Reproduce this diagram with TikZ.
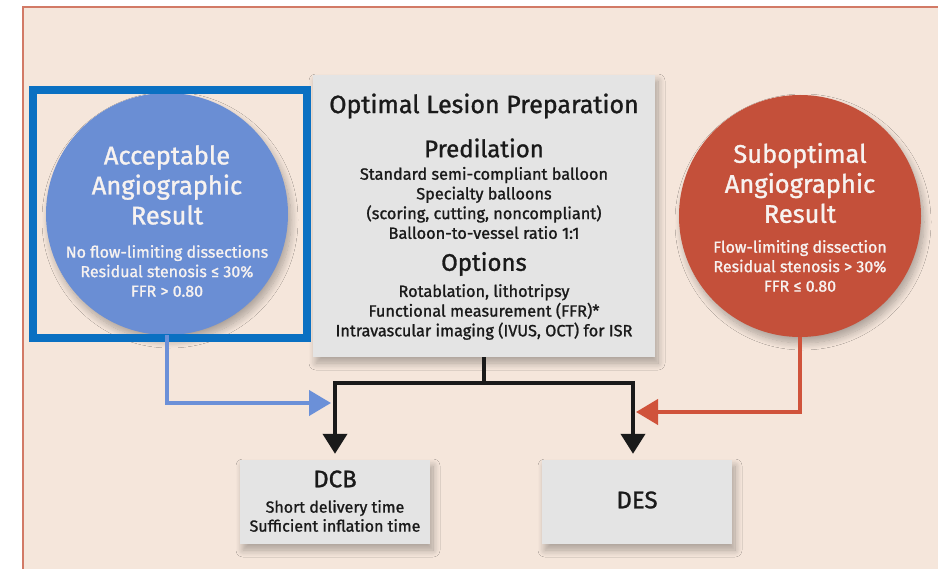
\documentclass[tikz,border=0pt]{standalone}
\usepackage{fontspec}
\setmainfont{Fira Sans}[RawFeature={embolden=1.2}]
\usetikzlibrary{arrows.meta,shadows.blur}
\definecolor{bgbeige}{HTML}{F5E6DB}
\definecolor{framered}{HTML}{D27A66}
\definecolor{accblue}{HTML}{6A8ED4}
\definecolor{arrblue}{HTML}{6B90D8}
\definecolor{subred}{HTML}{C4503A}
\definecolor{arrred}{HTML}{D0533B}
\definecolor{boxgray}{HTML}{E4E4E4}
\definecolor{hlblue}{HTML}{0A70C2}
\definecolor{txtwhite}{HTML}{F7F2F0}
\definecolor{txtblack}{HTML}{1A1A1A}
\tikzset{
  softshadow/.style={blur shadow={shadow blur steps=12,shadow xshift=3pt,shadow yshift=-6pt,shadow blur radius=7pt,shadow opacity=30}},
  graybox/.style={fill=boxgray,draw=none,rectangle,inner sep=0pt,softshadow},
  bigcirc/.style={circle,draw=none,inner sep=0pt,minimum size=242pt,softshadow},
  headw/.style={text=txtwhite,align=center,font=\fontsize{25.5}{30}\selectfont},
  smallw/.style={text=txtwhite,align=center,font=\fontsize{16}{19.5}\selectfont},
  headb/.style={text=txtblack,align=center,font=\fontsize{25}{28}\selectfont},
  smallb/.style={text=txtblack,align=center,font=\fontsize{16.3}{19.7}\selectfont},
  blkline/.style={draw=txtblack,line width=4pt},
  blkarrow/.style={blkline,-{Triangle[width=24pt,length=20pt]},shorten >=6pt},
  bluearrow/.style={draw=arrblue,line width=4pt,-{Triangle[width=25pt,length=22pt]}},
  redarrow/.style={draw=arrred,line width=4pt,-{Triangle[width=25pt,length=22pt]}},
}
\begin{document}
\begin{tikzpicture}[x=1pt,y=-1pt]
\useasboundingbox (0,0) rectangle (938,569);
\fill[white] (0,0) rectangle (938,569);
\fill[bgbeige] (23,7) rectangle (938,569);
\draw[framered,line width=1.5pt] (23,569) -- (23,7) -- (938,7);

% central box
\node[graybox,minimum width=342pt,minimum height=282pt] (opt) at (484,216) {};
\node[headb] (optt) at (484,106) {Optimal Lesion Preparation};
\node[headb,font=\fontsize{24}{28}\selectfont] (pred) at (484,148) {Predilation};
\node[smallb] (predl) at (484,203) {Standard semi-compliant balloon\\Specialty balloons\\(scoring, cutting, noncompliant)\\Balloon-to-vessel ratio 1:1};
\node[headb,font=\fontsize{24}{28}\selectfont] (opts) at (484,264) {Options};
\node[smallb] (optl) at (484,312) {Rotablation, lithotripsy\\Functional measurement (FFR)*\\Intravascular imaging (IVUS, OCT) for ISR};

% circles
\node[bigcirc,fill=accblue] (acc) at (167,214) {};
\node[headw] (acct) at (167,185) {Acceptable\\Angiographic\\Result};
\node[smallw] (accl) at (167,271) {No flow-limiting dissections\\Residual stenosis ≤ 30\%\\FFR > 0.80};

\node[bigcirc,fill=subred] (sub) at (800,216) {};
\node[headw] (subt) at (800,183) {Suboptimal\\Angiographic\\Result};
\node[smallw] (subl) at (800,266) {Flow-limiting dissection\\Residual stenosis > 30\%\\FFR ≤ 0.80};

% highlight frame
\draw[hlblue,line width=8pt] (33,90) rectangle (307,338);

% bottom boxes
\node[graybox,minimum width=190pt,minimum height=84pt] (dcb) at (335,502) {};
\node[headb,font=\fontsize{24}{28}\selectfont] (dcbt) at (335,479) {DCB};
\node[smallb,font=\fontsize{16}{19}\selectfont] (dcbl) at (335,516) {Short delivery time\\Sufficient inflation time};
\node[graybox,minimum width=190pt,minimum height=84pt] (des) at (637,502) {};
\node[headb,font=\fontsize{24}{28}\selectfont] (dest) at (637,500) {DES};

% connectors
\coordinate (j) at (484,383);
\draw[blkline] (opt.south) -- (j);
\draw[blkarrow] (j) -| (dcb.north);
\draw[blkarrow] (j) -| ([xshift=-4pt]des.north);
\coordinate (bt) at (331,403);
\draw[bluearrow] (acc.south) |- (bt);
\coordinate (rt) at (636,412);
\draw[redarrow] (sub.south) |- (rt);
\end{tikzpicture}
\end{document}
